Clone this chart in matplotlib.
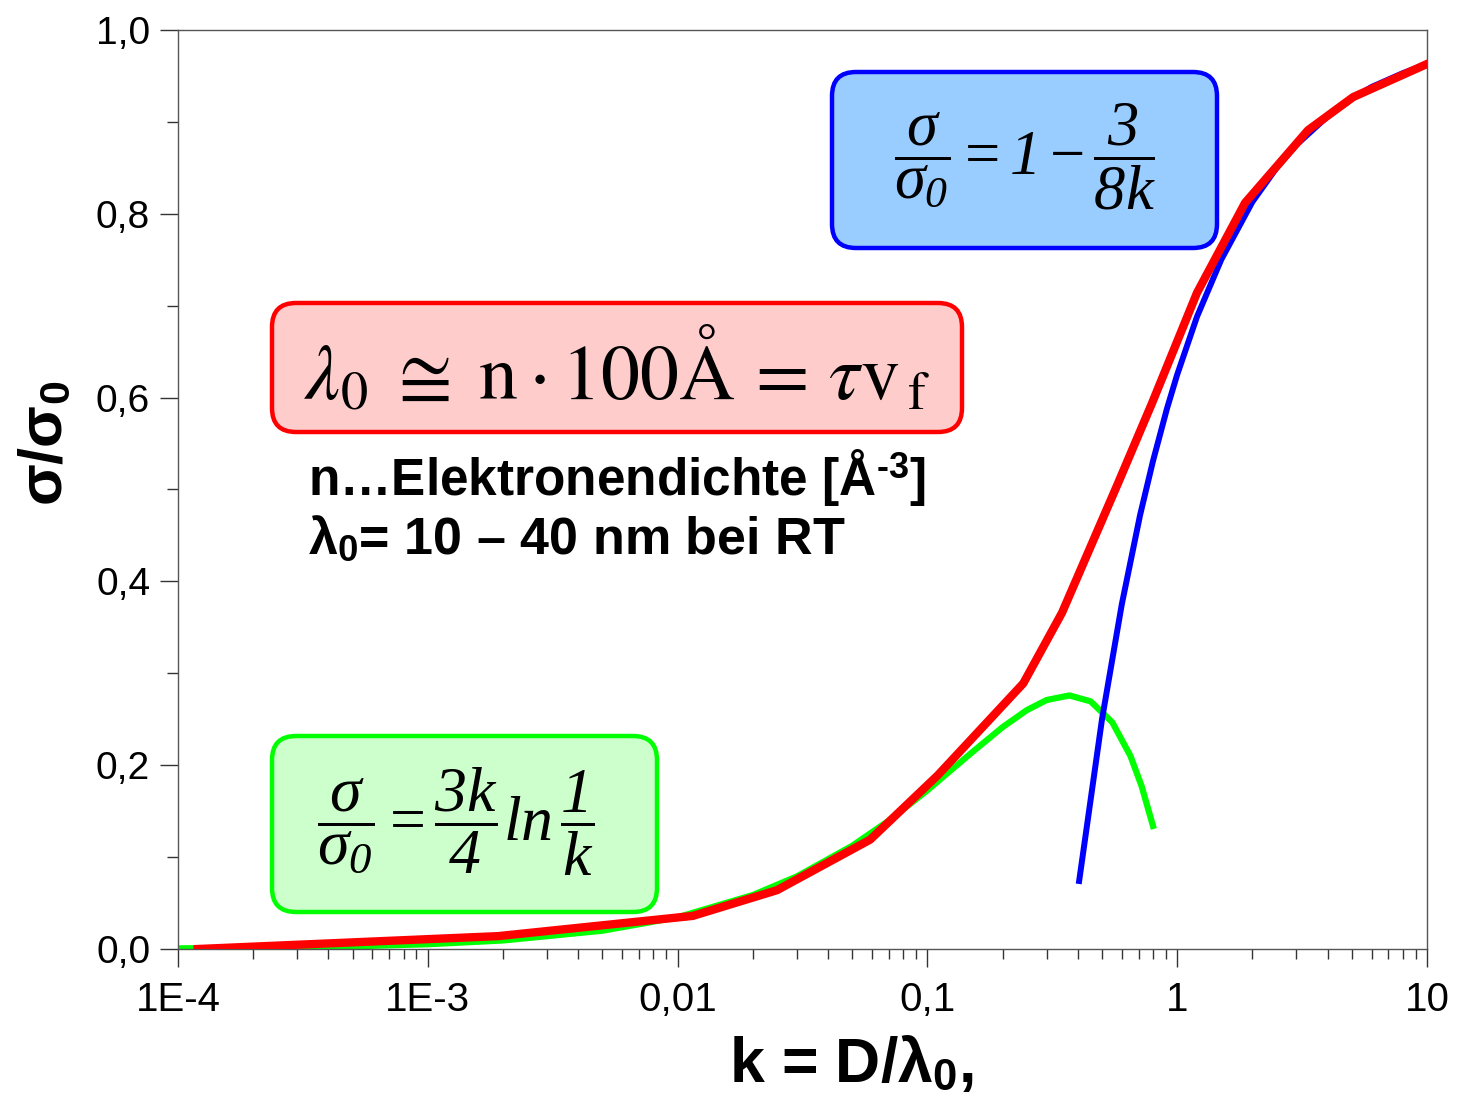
import matplotlib
matplotlib.use("Agg")
import matplotlib.pyplot as plt
from matplotlib.patches import FancyBboxPatch
from matplotlib.ticker import FixedLocator, LogLocator, MultipleLocator, NullFormatter

plt.rcParams['font.family'] = ['Liberation Sans', 'DejaVu Sans']
plt.rcParams['mathtext.fontset'] = 'custom'
plt.rcParams['mathtext.rm'] = 'Liberation Serif'
plt.rcParams['mathtext.it'] = 'Liberation Serif:italic'
plt.rcParams['mathtext.sf'] = 'Liberation Serif:italic'  # italic digits in the formulas
plt.rcParams['mathtext.bf'] = 'Liberation Sans:bold'

# ---------------------------------------------
# data
# ---------------------------------------------
# full solution (red, piecewise)
k_full = [1.2e-4, 1.91e-3, 0.0115, 0.025, 0.059, 0.110, 0.242, 0.346, 0.580,
          0.793, 1.20, 1.87, 3.34, 5.06, 10.0]
s_full = [0.000, 0.014, 0.036, 0.064, 0.119, 0.189, 0.289, 0.366, 0.507,
          0.594, 0.714, 0.812, 0.891, 0.927, 0.963]

# thin limit (green)
k_thin = [1e-4, 2e-4, 5e-4, 1e-3, 2e-3, 5e-3, 0.01, 0.02, 0.03, 0.05, 0.07, 0.1,
          0.15, 0.2, 0.25, 0.3, 0.37, 0.45, 0.55, 0.65, 0.72, 0.8]
s_thin = [0.0007, 0.0013, 0.0029, 0.0052, 0.0093, 0.0199, 0.0345, 0.0587, 0.0789,
          0.1123, 0.1396, 0.1727, 0.2134, 0.2414, 0.2599, 0.2709, 0.2759, 0.2695,
          0.2466, 0.2100, 0.1774, 0.1339]

# thick limit (blue)
k_thick = [0.405, 0.5, 0.6, 0.71, 0.8, 0.91, 1.0, 1.2, 1.5, 2.0, 2.5, 3.0, 4.0,
           5.0, 6.0, 8.0, 10.0]
s_thick = [0.074, 0.250, 0.375, 0.472, 0.531, 0.588, 0.625, 0.688, 0.750, 0.813,
           0.850, 0.875, 0.906, 0.925, 0.938, 0.953, 0.963]

x_ticks = [1e-4, 1e-3, 1e-2, 1e-1, 1, 10]
x_ticklabels = ['1E-4', '1E-3', '0,01', '0,1', '1', '10']
y_ticks = [0.0, 0.2, 0.4, 0.6, 0.8, 1.0]
y_ticklabels = ['0,0', '0,2', '0,4', '0,6', '0,8', '1,0']

W, H = 1457, 1094
fig = plt.figure(figsize=(W / 100, H / 100), dpi=100)
ax = fig.add_axes([178 / W, 1 - 949 / H, 1249 / W, 919 / H])

ax.plot(k_thin, s_thin, color='#00ff00', lw=4.5, zorder=2)
ax.plot(k_thick, s_thick, color='#0000ff', lw=4.3, zorder=3)
ax.plot(k_full, s_full, color='#ff0000', lw=6, zorder=4)

ax.set_xscale('log')
ax.set_xlim(1e-4, 10)
ax.set_ylim(0, 1.0)
ax.xaxis.set_major_locator(FixedLocator(x_ticks))
ax.set_xticklabels(x_ticklabels)
ax.xaxis.set_minor_locator(LogLocator(base=10, subs=range(2, 10)))
ax.xaxis.set_minor_formatter(NullFormatter())
ax.set_yticks(y_ticks)
ax.set_yticklabels(y_ticklabels)
ax.yaxis.set_minor_locator(MultipleLocator(0.1))

ax.tick_params(which='major', direction='out', length=13, width=1, labelsize=28,
               color='#333333', pad=7)
ax.tick_params(axis='x', which='major', labelsize=29, pad=10)
ax.tick_params(axis='x', which='minor', direction='out', length=7, width=1, color='#333333')
ax.tick_params(axis='y', which='minor', direction='out', length=8, width=1, color='#333333')
for sp in ax.spines.values():
    sp.set_color('#555555')
    sp.set_linewidth(1)

ax.set_xlabel(r'k = D/λ$_\mathbf{0}$,', fontsize=45, fontweight='bold')
ax.xaxis.set_label_coords(0.539, -0.092)
ax.set_ylabel(r'σ/σ$_\mathbf{0}$', fontsize=44, fontweight='bold')
ax.yaxis.set_label_coords(-0.083, 0.55)


# ---------------------------------------------
# boxes with formulas (pixel positions of the picture)
# ---------------------------------------------
def box(x0, y0, x1, y1, face, edge):
    r = 24
    p = FancyBboxPatch((x0 / W, 1 - y1 / H), (x1 - x0) / W, (y1 - y0) / H,
                       boxstyle=f"round,pad=0,rounding_size={r / W}",
                       mutation_aspect=W / H, transform=fig.transFigure,
                       facecolor=face, edgecolor=edge, linewidth=3.2, zorder=5)
    fig.add_artist(p)


box(832, 72, 1217, 248, '#99ccff', '#0000ff')
box(272, 303, 962, 432, '#ffcccc', '#ff0000')
box(272, 736, 657, 912, '#ccffcc', '#00ff00')

fig.text(1025 / W, 1 - 157 / H,
         r'$\dfrac{\sigma}{\sigma_{\mathsf{0}}} = \mathsf{1} - \dfrac{\mathsf{3}}{\mathsf{8}k}$',
         fontsize=45, ha='center', va='center', zorder=6)
fig.text(617 / W, 1 - 370 / H,
         r'$\lambda_{\mathrm{0}}\;\cong\;\mathrm{n}\cdot\mathrm{100Å}\,=\,\tau\mathrm{v}_{\mathrm{\,f}}$',
         fontsize=56, math_fontfamily='stix', ha='center', va='center', zorder=6)
fig.text(456 / W, 1 - 822 / H,
         r'$\dfrac{\sigma}{\sigma_{\mathsf{0}}} = \dfrac{\mathsf{3}k}{\mathsf{4}}ln\,\dfrac{\mathsf{1}}{k}$',
         fontsize=46, ha='center', va='center', zorder=6)

fig.text(308 / W, 1 - 477 / H, r'n…Elektronendichte [Å$^\mathbf{‐3}$]',
         fontsize=37, fontweight='bold', ha='left', va='center', zorder=6)
fig.text(308 / W, 1 - 540 / H, r'λ$_\mathbf{0}$= 10 – 40 nm bei RT',
         fontsize=37.5, fontweight='bold', ha='left', va='center', zorder=6)

fig.savefig('out.png', dpi=100)
